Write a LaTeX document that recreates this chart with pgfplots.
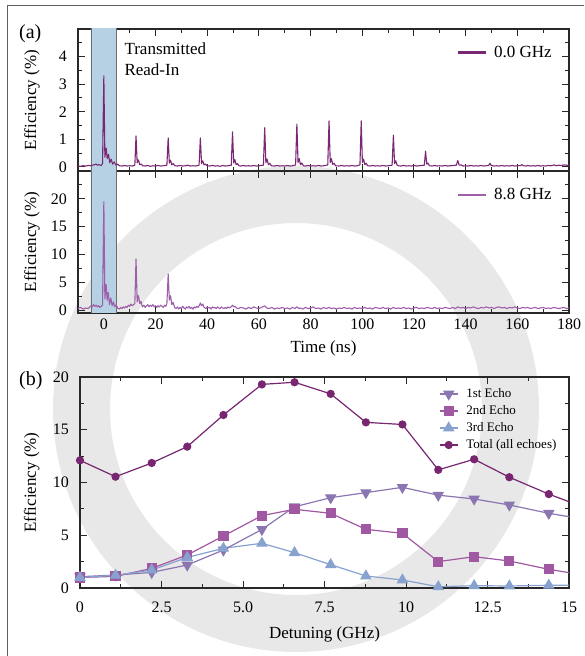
\documentclass[border=0pt]{standalone}
\usepackage{fontspec}
\setmainfont{Liberation Serif}
\usepackage{pgfplots}
\pgfplotsset{compat=1.18}

\definecolor{tracedark}{RGB}{122,40,115}
\definecolor{tracelight}{RGB}{158,95,170}
\definecolor{echoone}{RGB}{140,118,178}
\definecolor{echotwo}{RGB}{160,88,162}
\definecolor{echothree}{RGB}{135,162,206}
\definecolor{totalc}{RGB}{120,38,112}
\definecolor{readin}{RGB}{182,208,228}
\definecolor{ringgrey}{RGB}{232,232,232}
\definecolor{axgrey}{RGB}{40,40,40}

\pgfplotsset{
  common/.style={
    scale only axis,
    anchor=south west,
    axis line style={axgrey, line width=1.2pt},
    every tick/.style={axgrey, line width=0.9pt},
    major tick length=7pt,
    minor tick length=4pt,
    tick align=inside,
    /pgf/number format/assume math mode=true,
    tick label style={font=\fontsize{16}{19}\selectfont},
    label style={font=\fontsize{17}{20}\selectfont},
    yticklabel style={anchor=east, inner sep=0pt, xshift=-11pt},
    xticklabel style={anchor=base, inner sep=0pt},
  },
  tracelegend/.style={
    legend style={draw=none, fill=none, anchor=east, inner sep=0pt,
      nodes={inner sep=0pt}, column sep=7pt,
      font=\fontsize{17}{20}\selectfont},
    legend image code/.code={\draw[##1, line width=2.5pt] (0pt,0pt) -- (28pt,0pt);},
  },
}

\begin{document}
\begin{tikzpicture}[x=1pt,y=1pt]
\useasboundingbox (0,0) rectangle (584,656);
% background ring
\fill[ringgrey, even odd rule] (296,247) circle[radius=243] (296,247) circle[radius=186];
% frame
\draw[gray!75!black, line width=1.3pt] (7.3,0) -- (7.3,650.3) -- (584,650.3);

% (a) top: 0.0 GHz
\begin{axis}[common, tracelegend, at={(78pt,485pt)}, width=491pt, height=142pt,
  xmin=-10, xmax=180, ymin=-0.15, ymax=5,
  xtick={0,20,...,180}, minor xtick={-10,10,...,170}, xticklabels={},
  ytick={0,1,2,3,4}, minor ytick={0.5,1.5,2.5,3.5,4.5},
  ylabel={Efficiency (\%)},
  ylabel style={at={(axis description cs:-0.0855,0.5)}, anchor=base},
  legend style={at={(axis description cs:0.965,0.836)}},
]
\addplot[fill=readin, draw=gray!85!black, line width=0.8pt, forget plot]
  coordinates {(-5,-1) (-5,30) (5,30) (5,-1) (-5,-1)};
\addplot[tracedark, line width=1.1pt, line join=round, no markers] coordinates {
(-10,0.03) (-9,0.02) (-8,0.04) (-7,0.03) (-6,0.05) (-5,0.04) (-4,0.07) (-3,0.1)
(-2.5,0.06) (-2,0.08) (-1,0.05) (-0.5,0.12) (0,3.3) (0.4,0.35) (0.9,0.68) (1.3,0.3)
(1.8,0.45) (2.3,0.15) (2.8,0.28) (3.4,0.1) (4,0.18) (4.6,0.07) (5.3,0.1) (6,0.04)
(7,0.03) (8,0.05) (9,0.03) (10,0.04) (11,0.03) (12,0.06) (12.45,1.12) (12.9,0.15)
(13.4,0.25) (13.9,0.08) (14.5,0.1) (15,0.04) (16,0.03) (17,0.05) (18,0.02) (19,0.04)
(20,0.03) (21,0.05) (22,0.03) (23,0.04) (24.4,0.06) (24.9,1.05) (25.35,0.14) (25.8,0.24)
(26.3,0.07) (26.8,0.12) (27.5,0.04) (28.5,0.03) (29.5,0.05) (30.5,0.03) (31.5,0.04) (32.5,0.06)
(33.5,0.03) (34.5,0.04) (35.5,0.03) (36.85,0.06) (37.35,1.05) (37.8,0.12) (38.25,0.22) (38.8,0.07)
(39.3,0.1) (40,0.04) (41,0.03) (42,0.05) (43,0.03) (44,0.04) (45,0.02) (46,0.05)
(47,0.03) (48,0.04) (49.3,0.06) (49.8,1.27) (50.25,0.14) (50.7,0.26) (51.2,0.08) (51.7,0.12)
(52.3,0.04) (53,0.03) (54,0.05) (55,0.03) (56,0.04) (57,0.03) (58,0.05) (59,0.03)
(60,0.04) (61.75,0.06) (62.25,1.42) (62.7,0.15) (63.15,0.28) (63.7,0.08) (64.2,0.13) (64.8,0.04)
(66,0.03) (67,0.05) (68,0.03) (69,0.04) (70,0.03) (71,0.05) (72,0.03) (73,0.04)
(74.2,0.07) (74.7,1.55) (75.15,0.16) (75.6,0.3) (76.1,0.08) (76.6,0.14) (77.2,0.04) (78,0.03)
(79,0.05) (80,0.03) (81,0.04) (82,0.03) (83,0.05) (84,0.03) (85,0.04) (86.65,0.07)
(87.15,1.67) (87.6,0.16) (88.05,0.3) (88.55,0.09) (89.05,0.13) (89.7,0.04) (91,0.03) (92,0.05)
(93,0.03) (94,0.04) (95,0.03) (96,0.05) (97,0.03) (98,0.04) (99.1,0.07) (99.6,1.67)
(100.05,0.16) (100.5,0.28) (101,0.08) (101.5,0.13) (102.1,0.04) (103,0.03) (104,0.05) (105,0.03)
(106,0.04) (107,0.03) (108,0.05) (109,0.03) (110,0.04) (111.55,0.06) (112.05,1.15) (112.5,0.12)
(112.95,0.22) (113.45,0.07) (114,0.04) (115,0.03) (116,0.05) (117,0.03) (118,0.04) (119,0.03)
(120,0.05) (121,0.03) (122,0.04) (124,0.06) (124.5,0.57) (124.95,0.1) (125.4,0.14) (126,0.04)
(127,0.03) (128,0.05) (129,0.03) (130,0.04) (131,0.03) (132,0.05) (133,0.03) (134,0.04)
(136.4,0.06) (136.95,0.23) (137.5,0.06) (138.2,0.07) (139,0.03) (140,0.04) (141,0.03) (142,0.05)
(143,0.03) (144,0.04) (145,0.03) (146,0.05) (147,0.03) (148.9,0.05) (149.4,0.13) (149.9,0.05)
(151,0.03) (152,0.04) (153,0.03) (154,0.05) (155,0.03) (156,0.04) (157,0.03) (158,0.05)
(159,0.03) (160,0.04) (161.3,0.05) (161.85,0.08) (162.4,0.04) (163.5,0.03) (164,0.05) (165,0.03)
(166,0.04) (167,0.03) (168,0.05) (169,0.03) (170,0.04) (171,0.03) (172,0.05) (173,0.04)
(174.3,0.07) (175,0.04) (176,0.06) (177,0.05) (178,0.07) (179,0.06) (180,0.05)
};
\addlegendentry{0.0 GHz}
\end{axis}

% (a) bottom: 8.8 GHz
\begin{axis}[common, tracelegend, at={(78pt,343pt)}, width=491pt, height=142pt,
  xmin=-10, xmax=180, ymin=-0.5, ymax=25,
  xtick={0,20,...,180}, minor xtick={-10,10,...,170},
  xticklabel style={yshift=-17pt},
  ytick={0,5,10,15,20}, minor ytick={2.5,7.5,12.5,17.5,22.5},
  xlabel={Time (ns)},
  xlabel style={at={(axis description cs:0.5,0)}, anchor=base, yshift=-40pt},
  ylabel={Efficiency (\%)},
  ylabel style={at={(axis description cs:-0.0855,0.5)}, anchor=base},
  legend style={at={(axis description cs:0.965,0.831)}},
]
\addplot[fill=readin, draw=gray!85!black, line width=0.8pt, forget plot]
  coordinates {(-5,-5) (-5,30) (5,30) (5,-5) (-5,-5)};
\addplot[tracelight, line width=1.1pt, line join=round, no markers] coordinates {
(-10,0.3) (-9,0.5) (-8,0.2) (-7,0.4) (-6,0.3) (-5,0.8) (-4.5,0.6) (-4,1.0)
(-3.5,0.7) (-3,0.9) (-2.5,0.6) (-2,0.8) (-1.5,0.5) (-1,0.7) (-0.5,0.9) (0,19.5)
(0.4,2.0) (0.9,4.6) (1.3,1.8) (1.7,3.2) (2.2,1.0) (2.7,2.2) (3.2,0.8) (3.7,1.5)
(4.2,0.6) (4.8,1.0) (5.3,0.4) (6,0.2) (6.5,0.5) (7,0.3) (7.5,0.6) (8,0.4)
(8.5,0.7) (9,0.5) (9.5,0.9) (10,0.7) (10.5,1.1) (11,0.8) (11.5,1.0) (12,1.2)
(12.45,9.2) (12.9,1.5) (13.4,2.6) (13.9,1.2) (14.4,1.6) (14.9,0.6) (15.5,0.9) (16,0.5)
(16.5,0.8) (17,1.0) (17.5,0.6) (18,0.9) (18.5,0.7) (19,1.0) (19.5,0.6) (20,0.8)
(20.5,0.5) (21,0.8) (21.5,0.6) (22,0.9) (22.5,0.7) (23,0.5) (23.5,0.9) (24,0.7)
(24.4,1.2) (24.9,6.5) (25.35,1.8) (25.8,2.6) (26.3,1.0) (26.8,1.4) (27.4,0.5) (28,0.3)
(28.5,0.6) (29,0.2) (29.5,0.5) (30,0.3) (30.5,0.7) (31,0.4) (31.5,0.2) (32,0.6)
(32.5,0.4) (33,0.7) (33.5,0.3) (34,0.5) (34.5,0.2) (35,0.6) (35.5,0.4) (36,0.7)
(36.5,0.5) (37,0.9) (37.35,1.3) (37.8,0.8) (38.3,1.1) (38.8,0.5) (39.5,0.3) (40,0.6)
(40.5,0.4) (41,0.5) (41.5,0.2) (42,0.6) (42.5,0.4) (43,0.5) (43.5,0.3) (44,0.6)
(44.5,0.4) (45,0.3) (45.5,0.6) (46,0.4) (46.5,0.3) (47,0.5) (47.5,0.3) (48,0.6)
(48.5,0.4) (49,0.5) (49.8,0.9) (50.3,0.6) (50.8,0.7) (51.3,0.4) (52,0.3) (53,0.5)
(54,0.4) (55,0.2) (56,0.5) (57,0.3) (58,0.6) (59,0.4) (60,0.3) (61,0.5)
(62.25,0.8) (63,0.4) (64,0.3) (65,0.5) (66,0.2) (67,0.4) (68,0.3) (69,0.5)
(70,0.3) (71,0.4) (72,0.2) (73,0.5) (74,0.3) (74.7,0.6) (75.5,0.3) (76,0.4)
(77,0.2) (78,0.5) (79,0.3) (80,0.4) (81,0.6) (82,0.3) (83,0.4) (84,0.2)
(85,0.5) (86,0.3) (87.15,0.5) (88,0.3) (89,0.4) (90,0.2) (91,0.4) (92,0.3)
(93,0.5) (94,0.3) (95,0.4) (96,0.2) (97,0.5) (98,0.3) (99,0.4) (100,0.3)
(101,0.5) (102,0.3) (103,0.4) (104,0.2) (105,0.5) (106,0.4) (107,0.3) (108,0.5)
(109,0.3) (110,0.4) (111,0.2) (112,0.5) (113,0.3) (114,0.4) (115,0.3) (116,0.5)
(117,0.3) (118,0.4) (119,0.2) (120,0.4) (121,0.5) (122,0.3) (123,0.4) (124,0.3)
(125,0.5) (126,0.4) (127,0.3) (128,0.5) (129,0.3) (130,0.4) (131,0.3) (132,0.5)
(133,0.4) (134,0.3) (135,0.5) (136,0.3) (137,0.6) (138,0.4) (139,0.5) (140,0.3)
(141,0.5) (142,0.4) (143,0.6) (144,0.4) (145,0.3) (146,0.5) (147,0.4) (148,0.6)
(149,0.4) (150,0.5) (151,0.3) (152,0.5) (153,0.6) (154,0.4) (155,0.5) (156,0.3)
(157,0.5) (158,0.4) (159,0.6) (160,0.4) (161,0.3) (162,0.5) (163,0.4) (164,0.5)
(165,0.3) (166,0.4) (167,0.5) (168,0.3) (169,0.4) (170,0.5) (171,0.3) (172,0.4)
(173,0.3) (174,0.5) (175,0.4) (176,0.3) (177,0.4) (178,0.5) (179,0.3) (180,0.4)
};
\addlegendentry{8.8 GHz}
\end{axis}

% (b) detuning
\begin{axis}[common, at={(80pt,68pt)}, width=489pt, height=211pt,
  xmin=0, xmax=15, ymin=0, ymax=20,
  xtick={0,2.5,5,7.5,10,12.5,15}, xticklabels={0,2.5,5.0,7.5,10,12.5,15},
  minor xtick={1.25,3.75,...,13.75},
  xticklabel style={yshift=-24.5pt},
  ytick={0,5,10,15,20}, minor ytick={2.5,7.5,12.5,17.5},
  xlabel={Detuning (GHz)},
  xlabel style={at={(axis description cs:0.5,0)}, anchor=base, yshift=-50pt},
  ylabel={Efficiency (\%)},
  ylabel style={at={(axis description cs:-0.09,0.5)}, anchor=base},
  legend cell align=left,
  legend style={draw=none, fill=none, at={(axis description cs:0.734,0.955)},
    anchor=north west, inner sep=0pt, column sep=6pt, row sep=2.5pt,
    font=\fontsize{13}{15}\selectfont},
  legend image code/.code={\draw[#1, mark repeat=2, mark phase=2]
    plot coordinates {(0pt,0pt) (9pt,0pt) (18pt,0pt)};},
]
\addplot[echoone, line width=1.2pt, mark=triangle*, mark size=5.5pt, mark options={rotate=180}] coordinates {
(0,1.07) (1.09,1.23) (2.2,1.48) (3.29,2.18) (4.4,3.6) (5.58,5.55) (6.58,7.7) (7.69,8.56)
(8.77,9.04) (9.89,9.54) (10.99,8.8) (12.09,8.44) (13.17,7.87) (14.38,7.08) (15.5,6.5)
};
\addlegendentry{1st Echo}
\addplot[echotwo, line width=1.2pt, mark=square*, mark size=4.5pt] coordinates {
(0,1.0) (1.09,1.1) (2.2,1.86) (3.29,3.13) (4.4,4.93) (5.58,6.86) (6.58,7.46) (7.69,7.08)
(8.77,5.56) (9.89,5.18) (10.99,2.5) (12.09,2.97) (13.17,2.56) (14.38,1.77) (15.5,1.2)
};
\addlegendentry{2nd Echo}
\addplot[echothree, line width=1.2pt, mark=triangle*, mark size=5.5pt] coordinates {
(0,1.0) (1.09,1.2) (2.2,1.7) (3.29,2.9) (4.4,3.76) (5.58,4.24) (6.58,3.35) (7.69,2.21)
(8.77,1.14) (9.89,0.76) (10.99,0.12) (12.09,0.22) (13.17,0.19) (14.38,0.26) (15.5,0.28)
};
\addlegendentry{3rd Echo}
\addplot[totalc, line width=1.2pt, mark=*, mark size=3.5pt] coordinates {
(0,12.1) (1.09,10.55) (2.2,11.85) (3.29,13.4) (4.4,16.4) (5.58,19.3) (6.58,19.5) (7.69,18.4)
(8.77,15.7) (9.89,15.5) (10.99,11.2) (12.09,12.2) (13.17,10.5) (14.38,8.9) (15.5,7.6)
};
\addlegendentry{Total (all echoes)}
\end{axis}

% panel labels and annotation
\node[anchor=base west, inner sep=0pt, font=\fontsize{20}{24}\selectfont] at (19,617) {(a)};
\node[anchor=base west, inner sep=0pt, font=\fontsize{20}{24}\selectfont] at (19,270) {(b)};
\node[anchor=base west, inner sep=0pt, font=\fontsize{17}{20}\selectfont] at (124.3,601) {Transmitted};
\node[anchor=base west, inner sep=0pt, font=\fontsize{17}{20}\selectfont] at (124.3,580) {Read-In};
\end{tikzpicture}
\end{document}
